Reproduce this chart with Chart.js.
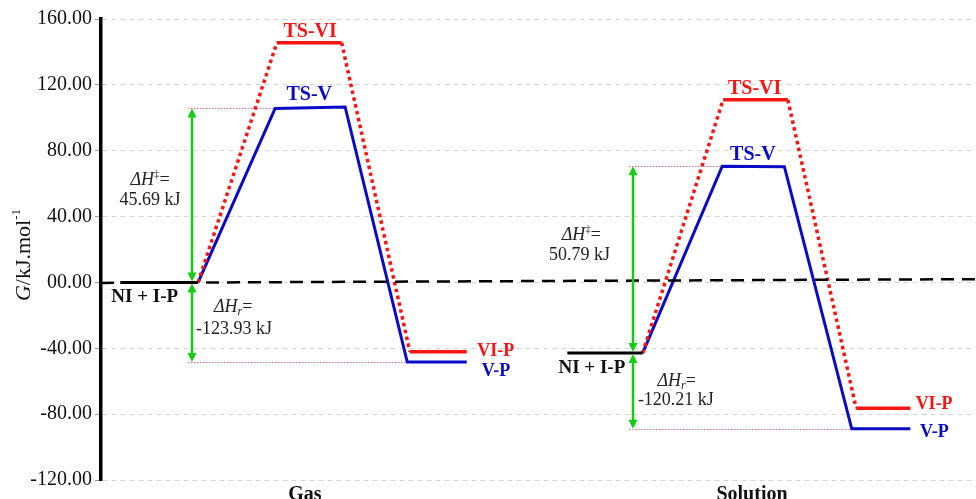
<!DOCTYPE html>
<html>
<head>
<meta charset="utf-8">
<title>Free energy profile</title>
<script src="https://cdn.jsdelivr.net/npm/chart.js@4.4.1/dist/chart.umd.min.js"></script>
<style>
  html, body { margin: 0; padding: 0; background: #fff; }
  #wrap { width: 976px; height: 499px; position: relative; }
</style>
</head>
<body>
<div id="wrap"><canvas id="chart"></canvas></div>
<script>
const RED = '#fa1414';
const BLUE = '#0a0ac8';
const GREEN = '#14cc14';
const PINK = 'rgba(220, 90, 120, 0.85)';
const SERIF = '"Liberation Serif", "Times New Roman", serif';

// Axis categories and ticks
const categories = ['Gas', 'Solution'];
const categoryX = [23.3, 74.4];
const yTickValues = [160, 120, 80, 40, 0, -40, -80, -120];
const yTickLabels = ['160.00', '120.00', '80.00', '40.00', '00.00', '-40.00', '-80.00', '-120.00'];

// Reference line for G = 0 (reaction coordinate 0-100, G in kJ/mol)
const zeroLineX = [0, 100];
const zeroLineG = [-0.3, 2.0];

// Gas phase profile
const gasReactantX = [2.2, 11.1];
const gasReactantG = [0, 0];
const gasPathVX = [11.1, 19.9, 27.9, 35.0, 41.8];
const gasPathVG = [0, 105.7, 106.6, -48.4, -48.4];
const gasPathVIX = [11.1, 20.1, 27.5, 35.3, 41.8];
const gasPathVIG = [0, 145.6, 145.6, -42.1, -42.1];

// Solution phase profile
const solReactantX = [53.3, 61.9];
const solReactantG = [-42.9, -42.9];
const solPathVX = [61.9, 71.0, 78.1, 85.8, 92.5];
const solPathVG = [-42.9, 70.6, 70.3, -88.9, -88.9];
const solPathVIX = [61.9, 71.1, 78.5, 86.3, 92.5];
const solPathVIG = [-42.9, 110.9, 110.9, -76.4, -76.4];

// Enthalpy annotations (gas, solution)
const arrowX = [10.4, 60.8];
const barrierValues = ['45.69 kJ', '50.79 kJ'];
const reactionValues = ['-123.93 kJ', '-120.21 kJ'];

const toPoints = (xs, ys) => xs.map((x, i) => ({ x: x, y: ys[i] }));

// Arrow geometry built from the path arrays: reactant level -> TS-V and -> V-P
const arrows = [
  { x: arrowX[0], base: gasReactantG[1], top: gasPathVG[1], topEnd: gasPathVX[1], bottom: gasPathVG[3], bottomEnd: gasPathVX[3] },
  { x: arrowX[1], base: solReactantG[1], top: solPathVG[1], topEnd: solPathVX[1], bottom: solPathVG[3], bottomEnd: solPathVX[3] }
];

const bold = s => 'bold ' + s + 'px ' + SERIF;
const reg = s => s + 'px ' + SERIF;
const ital = s => 'italic ' + s + 'px ' + SERIF;

const dHa = [{ t: 'ΔH', font: ital(18) }, { t: '‡', font: reg(11), dy: -6 }, { t: '=', font: reg(18) }];
const dHr = [{ t: 'ΔH', font: ital(18) }, { t: 'r', font: ital(12), dy: 5 }, { t: '=', font: reg(18) }];

// Text placed in data units (reaction coordinate, G)
const textMarks = [
  { parts: [{ t: 'TS-VI', font: bold(20) }], x: 23.9, y: 152.1, color: RED, align: 'center' },
  { parts: [{ t: 'TS-V', font: bold(20) }], x: 23.8, y: 113.8, color: BLUE, align: 'center' },
  { parts: [{ t: 'TS-VI', font: bold(20) }], x: 74.7, y: 117.4, color: RED, align: 'center' },
  { parts: [{ t: 'TS-V', font: bold(20) }], x: 74.5, y: 77.3, color: BLUE, align: 'center' },
  { parts: [{ t: 'VI-P', font: bold(18) }], x: 43.0, y: -41.9, color: RED, align: 'left' },
  { parts: [{ t: 'V-P', font: bold(18) }], x: 43.5, y: -54.0, color: BLUE, align: 'left' },
  { parts: [{ t: 'VI-P', font: bold(18) }], x: 93.1, y: -74.1, color: RED, align: 'left' },
  { parts: [{ t: 'V-P', font: bold(18) }], x: 93.6, y: -91.1, color: BLUE, align: 'left' },
  { parts: [{ t: 'NI + I-P', font: bold(19) }], x: 5.0, y: -9.1, color: '#111', align: 'center' },
  { parts: [{ t: 'NI + I-P', font: bold(19) }], x: 56.1, y: -52.2, color: '#111', align: 'center' },
  { parts: dHa, x: 5.6, y: 62.1, color: '#222', align: 'center' },
  { parts: [{ t: barrierValues[0], font: reg(18) }], x: 5.6, y: 49.9, color: '#222', align: 'center' },
  { parts: dHr, x: 15.1, y: -15.1, color: '#222', align: 'center' },
  { parts: [{ t: reactionValues[0], font: reg(18) }], x: 15.2, y: -28.5, color: '#222', align: 'center' },
  { parts: dHa, x: 54.9, y: 28.6, color: '#222', align: 'center' },
  { parts: [{ t: barrierValues[1], font: reg(18) }], x: 54.7, y: 16.5, color: '#222', align: 'center' },
  { parts: dHr, x: 65.8, y: -59.9, color: '#222', align: 'center' },
  { parts: [{ t: reactionValues[1], font: reg(18) }], x: 65.7, y: -71.5, color: '#222', align: 'center' }
];

function drawRich(ctx, parts, x, y, align) {
  let w = 0;
  parts.forEach(p => { ctx.font = p.font; p.w = ctx.measureText(p.t).width; w += p.w; });
  let cx = align === 'center' ? x - w / 2 : (align === 'right' ? x - w : x);
  ctx.textAlign = 'left';
  ctx.textBaseline = 'middle';
  parts.forEach(p => {
    ctx.font = p.font;
    ctx.fillText(p.t, cx, y + (p.dy || 0));
    cx += p.w;
  });
}

function arrowHead(ctx, x, y, dir) {
  // dir = -1 points up, +1 points down
  ctx.beginPath();
  ctx.moveTo(x, y);
  ctx.lineTo(x - 4.5, y - dir * 9);
  ctx.lineTo(x + 4.5, y - dir * 9);
  ctx.closePath();
  ctx.fill();
}

const annotations = {
  id: 'annotations',
  beforeDatasetsDraw(chart) {
    const { ctx, scales: { x, y } } = chart;
    ctx.save();
    ctx.strokeStyle = PINK;
    ctx.lineWidth = 1;
    ctx.setLineDash([1.5, 1.5]);
    arrows.forEach(a => {
      const ax = x.getPixelForValue(a.x) - 4;
      [[a.top, a.topEnd], [a.bottom, a.bottomEnd]].forEach(([g, end]) => {
        const py = Math.round(y.getPixelForValue(g)) + 0.5;
        ctx.beginPath();
        ctx.moveTo(ax, py);
        ctx.lineTo(x.getPixelForValue(end), py);
        ctx.stroke();
      });
    });
    ctx.restore();
  },
  afterDatasetsDraw(chart) {
    const { ctx, scales: { x, y } } = chart;
    ctx.save();
    ctx.strokeStyle = GREEN;
    ctx.fillStyle = GREEN;
    ctx.lineWidth = 2.5;
    arrows.forEach(a => {
      const ax = x.getPixelForValue(a.x);
      const yb = y.getPixelForValue(a.base);
      const yt = y.getPixelForValue(a.top);
      const yd = y.getPixelForValue(a.bottom);
      // upper double-headed arrow
      ctx.beginPath(); ctx.moveTo(ax, yt + 8); ctx.lineTo(ax, yb - 8); ctx.stroke();
      arrowHead(ctx, ax, yt, -1);
      arrowHead(ctx, ax, yb - 1, 1);
      // lower double-headed arrow
      ctx.beginPath(); ctx.moveTo(ax, yb + 8); ctx.lineTo(ax, yd - 8); ctx.stroke();
      arrowHead(ctx, ax, yb + 1, -1);
      arrowHead(ctx, ax, yd, 1);
    });
    ctx.restore();
  },
  afterDraw(chart) {
    const { ctx, scales: { x, y } } = chart;
    ctx.save();
    textMarks.forEach(m => {
      ctx.fillStyle = m.color;
      drawRich(ctx, m.parts, x.getPixelForValue(m.x), y.getPixelForValue(m.y), m.align);
    });
    // y-axis title: G/kJ.mol^-1
    ctx.translate(24, 255);
    ctx.rotate(-Math.PI / 2);
    ctx.fillStyle = '#111';
    drawRich(ctx, [
      { t: 'G', font: ital(22) },
      { t: '/kJ.mol', font: reg(22) },
      { t: '-1', font: reg(13), dy: -7 }
    ], 0, 0, 'center');
    ctx.restore();
  }
};

const levelSegment = {
  borderDash: c => (c.p0.parsed.y !== c.p1.parsed.y ? [3.5, 3.5] : undefined)
};

const lineDefaults = { pointRadius: 0, tension: 0, fill: false, borderCapStyle: 'butt', borderJoinStyle: 'miter' };

new Chart(document.getElementById('chart'), {
  type: 'line',
  data: {
    datasets: [
      Object.assign({ label: 'G = 0', data: toPoints(zeroLineX, zeroLineG), borderColor: '#000', borderWidth: 2.5, borderDash: [13, 8] }, lineDefaults),
      Object.assign({ label: 'Gas NI + I-P', data: toPoints(gasReactantX, gasReactantG), borderColor: '#000', borderWidth: 3 }, lineDefaults),
      Object.assign({ label: 'Gas TS-VI', data: toPoints(gasPathVIX, gasPathVIG), borderColor: RED, borderWidth: 3.5, segment: levelSegment }, lineDefaults),
      Object.assign({ label: 'Gas TS-V', data: toPoints(gasPathVX, gasPathVG), borderColor: BLUE, borderWidth: 3 }, lineDefaults),
      Object.assign({ label: 'Solution NI + I-P', data: toPoints(solReactantX, solReactantG), borderColor: '#000', borderWidth: 3 }, lineDefaults),
      Object.assign({ label: 'Solution TS-VI', data: toPoints(solPathVIX, solPathVIG), borderColor: RED, borderWidth: 3.5, segment: levelSegment }, lineDefaults),
      Object.assign({ label: 'Solution TS-V', data: toPoints(solPathVX, solPathVG), borderColor: BLUE, borderWidth: 3 }, lineDefaults)
    ]
  },
  options: {
    responsive: true,
    maintainAspectRatio: false,
    animation: false,
    devicePixelRatio: 1,
    layout: { padding: { top: 19, right: 0, bottom: 0, left: 0 } },
    plugins: { legend: { display: false }, tooltip: { enabled: false } },
    scales: {
      x: {
        type: 'linear',
        min: 0,
        max: 100,
        grid: { display: false },
        border: { display: false },
        afterBuildTicks: s => { s.ticks = categoryX.map(v => ({ value: v })); },
        afterFit: s => { s.height = 19; },
        ticks: {
          autoSkip: false,
          maxRotation: 0,
          padding: -5,
          color: '#111',
          font: { family: SERIF, size: 20, weight: 'bold' },
          callback: (v, i) => categories[i]
        }
      },
      y: {
        type: 'linear',
        min: -120,
        max: 160,
        afterBuildTicks: s => { s.ticks = yTickValues.map(v => ({ value: v })); },
        afterFit: s => { s.width = 101; },
        grid: { color: '#d6d6d6', lineWidth: 1, tickColor: '#9a9a9a', tickLength: 6 },
        border: { display: true, color: '#000', width: 3.5, dash: [5, 4] },
        ticks: {
          padding: 3,
          color: '#111',
          font: { family: SERIF, size: 20 },
          callback: (v, i) => yTickLabels[i]
        }
      }
    }
  },
  plugins: [annotations]
});
</script>
</body>
</html>
